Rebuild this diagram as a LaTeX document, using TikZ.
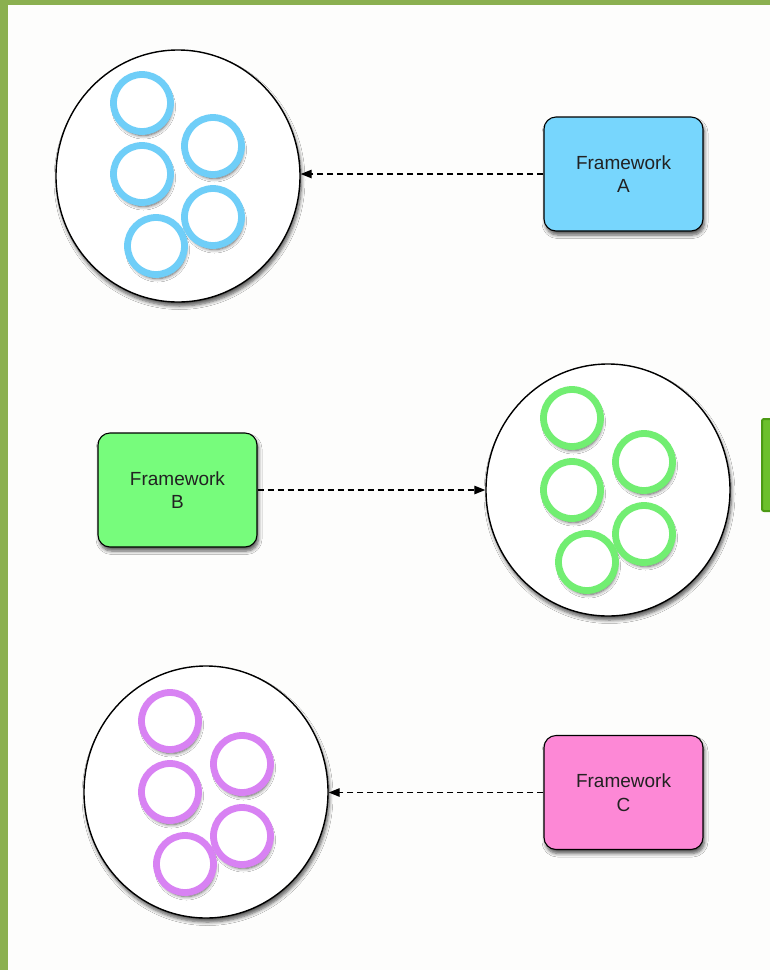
\documentclass[tikz,border=0pt]{standalone}
\usepackage{fontspec}
\setmainfont{Liberation Sans}
\usetikzlibrary{shapes.geometric,shadows.blur,arrows.meta}
\definecolor{bgc}{HTML}{FDFDFC}
\definecolor{framec}{HTML}{8BB050}
\definecolor{tabfill}{HTML}{6CC02C}
\definecolor{tabline}{HTML}{4C9A14}
\definecolor{boxA}{HTML}{77D6FD}
\definecolor{boxB}{HTML}{77FC7C}
\definecolor{boxC}{HTML}{FD88D6}
\definecolor{ringA}{HTML}{6FCEF8}
\definecolor{ringB}{HTML}{72EE72}
\definecolor{ringC}{HTML}{D882F3}
\definecolor{txt}{HTML}{222222}
\tikzset{
  shad/.style={blur shadow={shadow xshift=1.5pt, shadow yshift=-4pt, shadow blur radius=3.5pt, shadow blur steps=6, shadow opacity=65}},
  bigc/.style={ellipse, draw=black, line width=1.4pt, fill=white, minimum width=244pt, minimum height=252pt, inner sep=0pt, shad},
  ring/.style={circle, draw=#1, line width=6.8pt, fill=white, minimum size=57pt, inner sep=0pt, shad},
  fwbox/.style={rectangle, rounded corners=12pt, draw=black, line width=1.1pt, fill=#1, minimum width=159pt, minimum height=114pt, inner sep=0pt, align=center, text=txt, font=\fontsize{19}{23.5}\selectfont, shad},
  link/.style={dashed, dash pattern=on 6pt off 4pt, line width=1.3pt, -{Triangle[length=11pt,width=8.5pt]}},
}
\begin{document}
\begin{tikzpicture}[x=1pt,y=-1pt]
\useasboundingbox (0,0) rectangle (770,970);
\fill[bgc] (0,0) rectangle (770,970);
\fill[framec] (0,0) rectangle (770,5);
\fill[framec] (0,0) rectangle (8,970);
% green tab at right edge
\draw[tabline, fill=tabfill, line width=2pt, rounded corners=2pt] (772,419) -- (762,419) -- (762,511) -- (772,511);

% Circle A
\node[bigc] (ca) at (178,176) {};
\node[ring=ringA] (a1) at (142,103) {};
\node[ring=ringA] (a2) at (213,146) {};
\node[ring=ringA] (a3) at (142,174) {};
\node[ring=ringA] (a4) at (213,217) {};
\node[ring=ringA] (a5) at (156,246) {};

% Circle B
\node[bigc] (cb) at (608,490) {};
\node[ring=ringB] (b1) at (572,418) {};
\node[ring=ringB] (b2) at (644,462) {};
\node[ring=ringB] (b3) at (572,490) {};
\node[ring=ringB] (b4) at (644,534) {};
\node[ring=ringB] (b5) at (587,562) {};

% Circle C
\node[bigc] (cc) at (206,792) {};
\node[ring=ringC] (c1) at (170,721) {};
\node[ring=ringC] (c2) at (242,764) {};
\node[ring=ringC] (c3) at (170,792) {};
\node[ring=ringC] (c4) at (242,836) {};
\node[ring=ringC] (c5) at (185,864) {};

% Framework boxes
\node[fwbox=boxA] (fa) at (623.5,174) {Framework\\A};
\node[fwbox=boxB] (fb) at (177.5,490) {Framework\\B};
\node[fwbox=boxC] (fc) at (623.5,792.5) {Framework\\C};

% connectors
\draw[link] (fa.west) -- (ca.east |- fa.west);
\draw[link] (fb.east) -- (cb.west |- fb.east);
\draw[link] (fc.west) -- (cc.east |- fc.west);
\end{tikzpicture}
\end{document}
